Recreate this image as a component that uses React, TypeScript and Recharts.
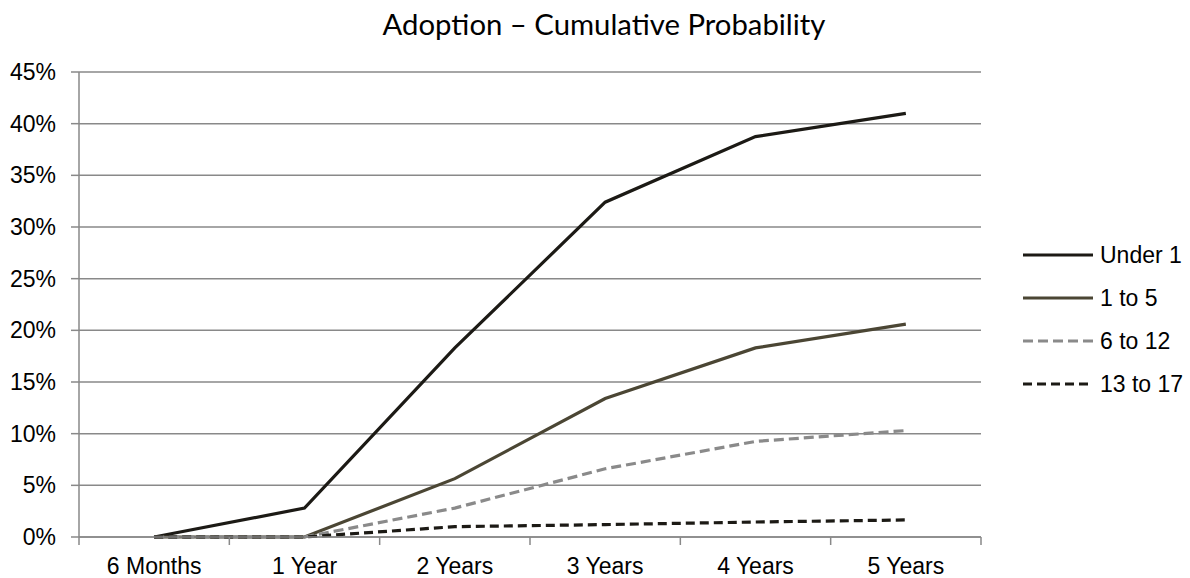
import { LineChart, Line, XAxis, YAxis, CartesianGrid } from "recharts";

// values (fractions, axis shows %)
const categories = ["6 Months", "1 Year", "2 Years", "3 Years", "4 Years", "5 Years"];
const under1 = [0, 0.028, 0.183, 0.324, 0.3875, 0.41];
const oneToFive = [0, 0, 0.0565, 0.134, 0.183, 0.206];
const sixToTwelve = [0, 0, 0.028, 0.066, 0.0925, 0.103];
const thirteenToSeventeen = [0, 0, 0.01, 0.012, 0.0145, 0.0165];
const yTicks = [0, 0.05, 0.1, 0.15, 0.2, 0.25, 0.3, 0.35, 0.4, 0.45];

const series = [
    { key: "under1", name: "Under 1", values: under1, color: "#1c1a15", dash: undefined as string | undefined },
    { key: "oneToFive", name: "1 to 5", values: oneToFive, color: "#4b4634", dash: undefined },
    { key: "sixToTwelve", name: "6 to 12", values: sixToTwelve, color: "#8a8a8a", dash: "10 5" },
    { key: "thirteenToSeventeen", name: "13 to 17", values: thirteenToSeventeen, color: "#1c1a15", dash: "9 5" },
];

const W = 1190;
const H = 578;
const MARGIN = { top: 72, right: 209, bottom: 11, left: 0 };
const Y_WIDTH = 79;
const PLOT_W = W - MARGIN.left - MARGIN.right - Y_WIDTH;
const BAND = PLOT_W / categories.length;
const GRAY = "#898989";
const FONT = "Arial, 'Liberation Sans', sans-serif";

const data = categories.map((name, i) => {
    const row: Record<string, string | number> = { name };
    series.forEach((s) => (row[s.key] = s.values[i]));
    return row;
});

// category label + tick marks on the band edges (Excel style)
function XTick(props: any) {
    const { x, y, payload, index } = props;
    const axisY = y - 23;
    const last = index === categories.length - 1;
    return (
        <g>
            <line x1={x - BAND / 2} x2={x - BAND / 2} y1={axisY} y2={axisY + 8} stroke={GRAY} strokeWidth={1.5} />
            {last && (
                <line x1={x + BAND / 2} x2={x + BAND / 2} y1={axisY} y2={axisY + 8} stroke={GRAY} strokeWidth={1.5} />
            )}
            <text x={x} y={axisY + 37} textAnchor="middle" fill="#000" fontSize={23} fontFamily={FONT}>
                {payload.value}
            </text>
        </g>
    );
}

export default function App() {
    return (
        <div style={{ position: "absolute", left: 0, top: 0, width: W, height: H, background: "#fff" }}>
            <svg width={W} height={60} style={{ position: "absolute", left: 0, top: 0 }}>
                <text x={604} y={35} textAnchor="middle" fill="#000" fontSize={29.3} fontFamily="Lato, 'Open Sans', sans-serif">
                    Adoption – Cumulative Probability
                </text>
            </svg>

            <div style={{ position: "absolute", left: 0, top: 0 }}>
                <LineChart width={W} height={H} data={data} margin={MARGIN}>
                    <CartesianGrid vertical={false} stroke={GRAY} strokeWidth={1.5} />
                    <XAxis
                        dataKey="name"
                        height={30}
                        interval={0}
                        padding={{ left: BAND / 2, right: BAND / 2 }}
                        axisLine={{ stroke: GRAY, strokeWidth: 1.5 }}
                        tickLine={false}
                        tickSize={8}
                        tickMargin={15}
                        tick={<XTick />}
                    />
                    <YAxis
                        width={Y_WIDTH}
                        domain={[0, 0.45]}
                        ticks={yTicks}
                        interval={0}
                        tickFormatter={(v: number) => `${Math.round(v * 100)}%`}
                        axisLine={{ stroke: GRAY, strokeWidth: 1.5 }}
                        tickLine={{ stroke: GRAY, strokeWidth: 1.5 }}
                        tickSize={8}
                        tickMargin={15}
                        tick={{ fill: "#000", fontSize: 23, fontFamily: FONT }}
                    />
                    {series.map((s) => (
                        <Line
                            key={s.key}
                            type="linear"
                            dataKey={s.key}
                            name={s.name}
                            stroke={s.color}
                            strokeWidth={3.2}
                            strokeDasharray={s.dash}
                            dot={false}
                            activeDot={false}
                            isAnimationActive={false}
                        />
                    ))}
                </LineChart>
            </div>

            <svg width={200} height={200} style={{ position: "absolute", left: 1010, top: 220 }}>
                {series.map((s, i) => {
                    const cy = 35 + i * 43;
                    return (
                        <g key={s.key}>
                            <line x1={13} x2={83} y1={cy} y2={cy} stroke={s.color} strokeWidth={3.2} strokeDasharray={s.dash} />
                            <text x={90} y={cy} dy="0.35em" fill="#000" fontSize={23} fontFamily={FONT}>
                                {s.name}
                            </text>
                        </g>
                    );
                })}
            </svg>
        </div>
    );
}
